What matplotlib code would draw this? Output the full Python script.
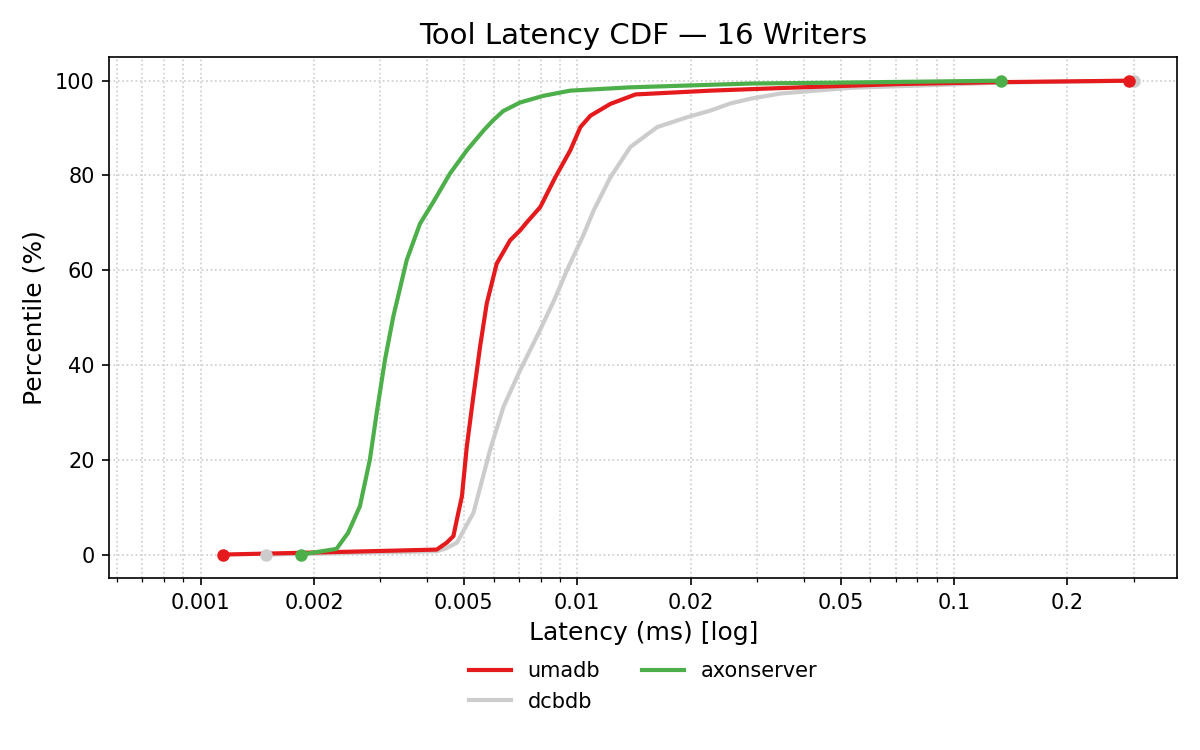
import matplotlib
matplotlib.use('Agg')
import matplotlib.pyplot as plt
from matplotlib.ticker import FixedLocator, FixedFormatter

# latency in ms, percentile in %
umadb_lat = [0.001144, 0.0022, 0.004236, 0.0045, 0.00469, 0.00479, 0.00494, 0.00509,
             0.0053, 0.00552, 0.00575, 0.00611, 0.00663, 0.00705, 0.00736, 0.00797,
             0.00874, 0.00958, 0.01019, 0.01083, 0.01224, 0.01427, 0.02257, 0.0392,
             0.0723, 0.1334, 0.2919]
umadb_pct = [0, 0.5, 1.05, 2.5, 3.9, 7.4, 12.3, 22.8,
             33.5, 43.9, 53, 61.4, 66.3, 68.4, 70.2, 73.3,
             79.6, 85.3, 90.2, 92.6, 95.1, 97.1, 97.9, 98.6,
             99.3, 99.7, 100]

dcbdb_lat = [0.001495, 0.004236, 0.00448, 0.00479, 0.0053, 0.00587, 0.00637, 0.00705,
             0.00781, 0.00865, 0.00939, 0.01039, 0.01105, 0.01224, 0.01383, 0.01629,
             0.01958, 0.02257, 0.0255, 0.02884, 0.0347, 0.0532, 0.0982, 0.1334, 0.301]
dcbdb_pct = [0, 0.7, 1.3, 2.5, 8.8, 22.1, 31.2, 38.9,
             46, 53.4, 60, 67.5, 72.6, 79.6, 86, 90.2,
             92.3, 93.7, 95.2, 96.2, 97.3, 98.5, 99.2, 99.6, 100]

axon_lat = [0.001852, 0.002295, 0.002464, 0.002648, 0.002814, 0.002933, 0.003085, 0.003247,
            0.003524, 0.003822, 0.004147, 0.004592, 0.00509, 0.00564, 0.00597, 0.00636,
            0.00705, 0.00812, 0.00958, 0.01383, 0.02884, 0.05, 0.1334]
axon_pct = [0, 1.2, 4.6, 10.2, 20, 29.8, 41, 50.2,
            62.1, 69.8, 74.4, 80.4, 85.3, 89.5, 91.6, 93.6,
            95.4, 96.8, 97.9, 98.6, 99.4, 99.6, 100]

series = [
    ('umadb', umadb_lat, umadb_pct, '#e41a1c', 3),
    ('dcbdb', dcbdb_lat, dcbdb_pct, '#cccccc', 2),
    ('axonserver', axon_lat, axon_pct, '#4daf4a', 4),
]

xticks = [0.001, 0.002, 0.005, 0.01, 0.02, 0.05, 0.1, 0.2]
xtick_labels = ['0.001', '0.002', '0.005', '0.01', '0.02', '0.05', '0.1', '0.2']

fig, ax = plt.subplots(figsize=(8, 5), dpi=150)
fig.subplots_adjust(left=0.091, right=0.981, top=0.924, bottom=0.229)

for name, lat, pct, col, z in series:
    ax.plot(lat, pct, color=col, lw=2, label=name, zorder=z)
    ax.plot([lat[0], lat[-1]], [pct[0], pct[-1]], 'o', color=col, ms=5, zorder=z + 3)

ax.set_xscale('log')
lo = min(s[1][0] for s in series)
hi = max(s[1][-1] for s in series)
ax.set_xlim(lo / 2, hi * 1.3)
ax.set_ylim(-5, 105)
ax.xaxis.set_major_locator(FixedLocator(xticks))
ax.xaxis.set_major_formatter(FixedFormatter(xtick_labels))
ax.grid(True, which='both', linestyle=':', color='#cccccc', lw=0.8)

ax.set_title('Tool Latency CDF — 16 Writers', fontsize=14)
ax.set_xlabel('Latency (ms) [log]', fontsize=12)
ax.set_ylabel('Percentile (%)', fontsize=12)
ax.legend(loc='upper center', bbox_to_anchor=(0.5, -0.123), ncol=2, frameon=False, fontsize=10)

plt.savefig('out.png')
